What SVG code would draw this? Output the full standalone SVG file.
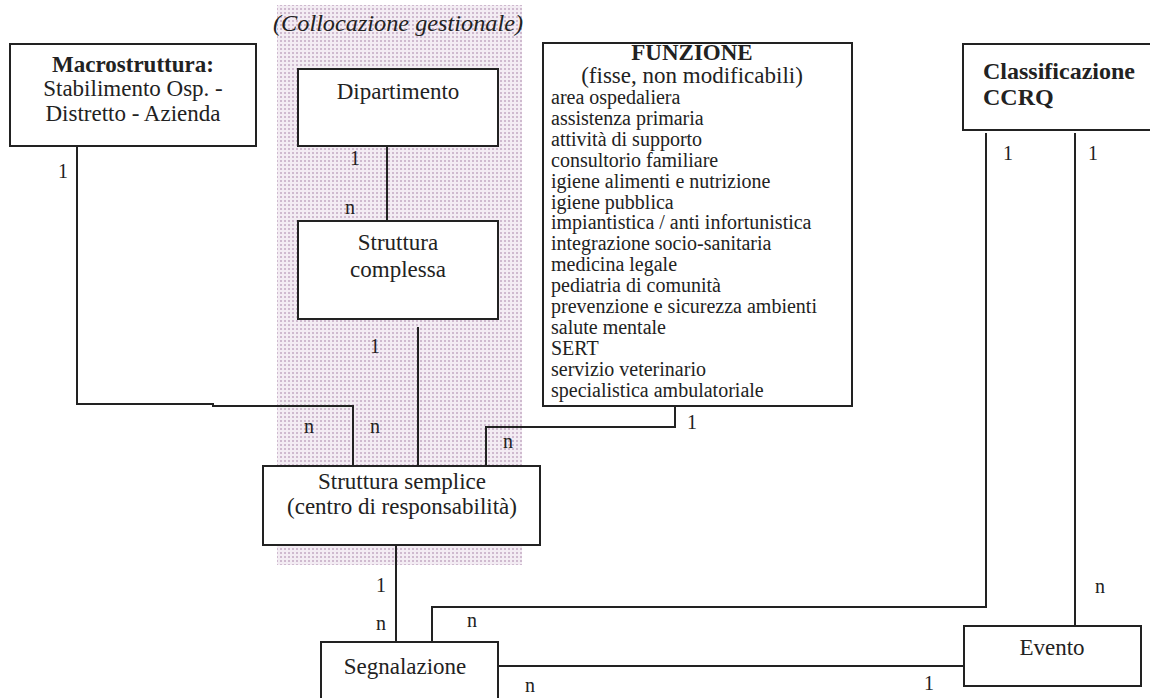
<svg xmlns="http://www.w3.org/2000/svg" width="1150" height="698" viewBox="0 0 1150 698">
<defs>
<pattern id="dots" width="4" height="4" patternUnits="userSpaceOnUse">
<rect width="4" height="4" fill="#f3ecf3"/>
<rect x="0" y="0" width="2" height="2" fill="#cfbacf"/>
</pattern>
<style>
.box{fill:#fff;stroke:#222;stroke-width:2}
.ln{fill:none;stroke:#222;stroke-width:2}
text{font-family:"Liberation Serif","Times New Roman",serif;fill:#222}
.lbl{font-size:23px;text-anchor:middle}
.b{font-weight:bold}
.card{font-size:20px;text-anchor:middle}
.lst{font-size:20px}
</style>
</defs>
<rect width="1150" height="698" fill="#fff"/>
<g id="band">
<rect x="277" y="5" width="245" height="560" fill="url(#dots)"/>
<text x="398" y="31" font-size="23" font-style="italic" text-anchor="middle" textLength="250" lengthAdjust="spacingAndGlyphs">(Collocazione gestionale)</text>
</g>
<g id="connectors">
<path class="ln" d="M77 146 V404 H213 V406 H353 V466"/>
<path class="ln" d="M387 146 V221"/>
<path class="ln" d="M418 327 V466"/>
<path class="ln" d="M675 406 V427 H486 V466"/>
<path class="ln" d="M396 545 V642"/>
<path class="ln" d="M986 133 V607 H432 V646"/>
<path class="ln" d="M1075 133 V626"/>
<path class="ln" d="M498 666 H964"/>
</g>
<g id="macrostruttura">
<rect class="box" x="10" y="44" width="246" height="102"/>
<text class="lbl b" x="133" y="72">Macrostruttura:</text>
<text class="lbl" x="133" y="96">Stabilimento Osp. -</text>
<text class="lbl" x="133" y="121">Distretto - Azienda</text>
</g>
<g id="dipartimento">
<rect class="box" x="298" y="69" width="200" height="77"/>
<text class="lbl" x="398" y="99">Dipartimento</text>
</g>
<g id="struttura-complessa">
<rect class="box" x="298" y="221" width="200" height="98"/>
<text class="lbl" x="398" y="250">Struttura</text>
<text class="lbl" x="398" y="277">complessa</text>
</g>
<g id="funzione">
<rect class="box" x="543" y="43" width="309" height="363"/>
<text class="lbl b" x="692" y="59.5" font-size="19">FUNZIONE</text>
<text class="lbl" x="692" y="82.5" font-size="19.5">(fisse, non modificabili)</text>
<text class="lst" x="551" y="104">area ospedaliera</text>
<text class="lst" x="551" y="124.9">assistenza primaria</text>
<text class="lst" x="551" y="145.8">attività di supporto</text>
<text class="lst" x="551" y="166.7">consultorio familiare</text>
<text class="lst" x="551" y="187.6">igiene alimenti e nutrizione</text>
<text class="lst" x="551" y="208.5">igiene pubblica</text>
<text class="lst" x="551" y="229.4">impiantistica / anti infortunistica</text>
<text class="lst" x="551" y="250.3">integrazione socio-sanitaria</text>
<text class="lst" x="551" y="271.2">medicina legale</text>
<text class="lst" x="551" y="292.1">pediatria di comunità</text>
<text class="lst" x="551" y="313">prevenzione e sicurezza ambienti</text>
<text class="lst" x="551" y="333.9">salute mentale</text>
<text class="lst" x="551" y="354.8">SERT</text>
<text class="lst" x="551" y="375.7">servizio veterinario</text>
<text class="lst" x="551" y="396.6">specialistica ambulatoriale</text>
</g>
<g id="classificazione">
<rect class="box" x="963" y="44" width="200" height="86"/>
<text class="b" x="983" y="79" font-size="24">Classificazione</text>
<text class="b" x="983" y="105" font-size="24">CCRQ</text>
</g>
<g id="struttura-semplice">
<rect class="box" x="263" y="466" width="277" height="79"/>
<text class="lbl" x="402" y="489">Struttura semplice</text>
<text class="lbl" x="402" y="514">(centro di responsabilità)</text>
</g>
<g id="segnalazione">
<rect class="box" x="321" y="642" width="177" height="70"/>
<text class="lbl" x="405" y="674">Segnalazione</text>
</g>
<g id="evento">
<rect class="box" x="964" y="626" width="177" height="60"/>
<text class="lbl" x="1052" y="655">Evento</text>
</g>
<g id="cardinalities">
<text class="card" x="63" y="178">1</text>
<text class="card" x="355" y="165">1</text>
<text class="card" x="350" y="214">n</text>
<text class="card" x="375" y="353">1</text>
<text class="card" x="309" y="433">n</text>
<text class="card" x="375" y="433">n</text>
<text class="card" x="508" y="448">n</text>
<text class="card" x="692" y="429">1</text>
<text class="card" x="1008" y="160">1</text>
<text class="card" x="1093" y="160">1</text>
<text class="card" x="381" y="592">1</text>
<text class="card" x="381" y="630">n</text>
<text class="card" x="472" y="627">n</text>
<text class="card" x="1100" y="593">n</text>
<text class="card" x="530" y="692">n</text>
<text class="card" x="929" y="690">1</text>
</g>
</svg>
